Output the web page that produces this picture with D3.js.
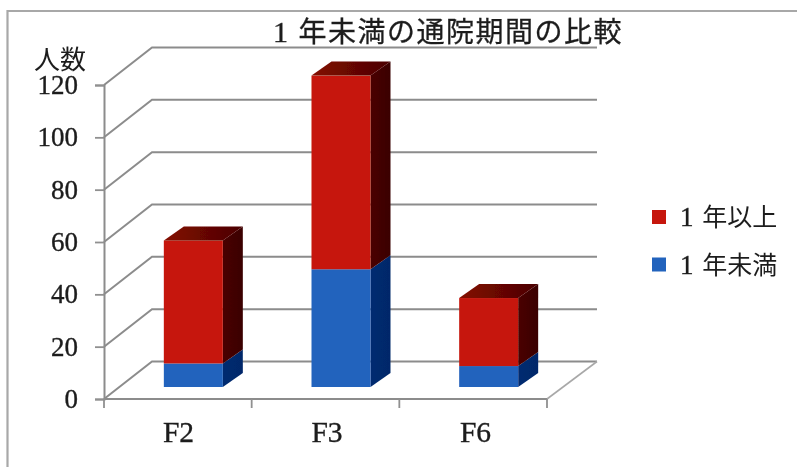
<!DOCTYPE html>
<html lang="ja">
<head>
<meta charset="utf-8">
<script src="https://cdn.jsdelivr.net/npm/d3@7"></script>
<style>
html,body{margin:0;padding:0;background:#fff}
svg{display:block}
text{fill:#1c1c1c}
</style>
</head>
<body>
<svg id="chart" width="797" height="467"></svg>
<script>
const categories = ["F2", "F3", "F6"];
const under1Year = [9, 45, 8];
const over1Year = [47, 74, 26];
const tickValues = [0, 20, 40, 60, 80, 100, 120];
const chartTitle = "1 年未満の通院期間の比較";
const yAxisTitle = "人数";
const legendLabels = ["1 年以上", "1 年未満"];

const serif = "'Liberation Serif', serif";
const cjk = "'Noto Sans CJK JP', sans-serif";
const svg = d3.select("#chart");
const defs = svg.append("defs");
const root = svg.append("g").attr("filter", "url(#soft)");

defs.append("filter").attr("id", "soft").attr("filterUnits", "userSpaceOnUse")
  .attr("x", 0).attr("y", 0).attr("width", 797).attr("height", 467)
  .append("feGaussianBlur").attr("stdDeviation", 0.6);
function grad(id, c0, c1) {
  const g = defs.append("linearGradient").attr("id", id).attr("x1", 0).attr("x2", 1).attr("y1", 0).attr("y2", 0);
  g.append("stop").attr("offset", 0).attr("stop-color", c0);
  g.append("stop").attr("offset", 1).attr("stop-color", c1);
}
grad("redTop", "#840a06", "#4a0304");
grad("redSide", "#4a0404", "#3a0304");
grad("blueSide", "#062a70", "#05286a");

const x = d3.scaleBand().domain(categories).range([104, 547]);
const xLabel = d3.scalePoint().domain(categories).range([178, 475]);
const y = d3.scaleLinear().domain([0, 120]).range([399, 85]);

const wall = { dx: 48, dy: -37.5 };
const wallRight = 597;
const depthStart = { dx: 15.5, dy: -12 };
const depth = { dx: 20, dy: -14 };
const barWidth = 59;
const gridColor = "#8c8c8c";

// frame
root.append("path").attr("fill", "none").attr("stroke", "#a8a8a8").attr("stroke-width", 2.2)
  .attr("d", "M7.5,467V11H797");

// gridlines: floor diagonal, then along back wall
const line = d3.line();
root.append("g").selectAll("path").data(tickValues).join("path")
  .attr("fill", "none").attr("stroke", gridColor).attr("stroke-width", 2)
  .attr("d", v => line([[104, y(v)], [104 + wall.dx, y(v) + wall.dy], [wallRight, y(v) + wall.dy]]));

// floor right diagonal
root.append("path").attr("fill", "none").attr("stroke", "#a8a8a8").attr("stroke-width", 1.6)
  .attr("d", line([[x.range()[1], y(0)], [wallRight, y(0) + wall.dy]]));

// left axis
const yAxis = d3.axisLeft(y).tickValues(tickValues).tickSize(9).tickPadding(17).tickFormat(d3.format("d"));
const yg = root.append("g").attr("transform", "translate(104,0)").call(yAxis);
yg.select(".domain").attr("stroke", "#8c8c8c").attr("stroke-width", 2);
yg.selectAll(".tick line").attr("stroke", "#909090").attr("stroke-width", 1.8);
yg.selectAll("text").attr("font-family", serif).attr("font-size", 27).attr("fill", "#1c1c1c")
  .attr("stroke", "#1c1c1c").attr("stroke-width", 0.35);

// bottom axis
const xAxis = d3.axisBottom(xLabel).tickSize(0).tickPadding(22);
const xg = root.append("g").attr("transform", "translate(0,399)").call(xAxis);
xg.select(".domain").remove();
xg.selectAll("text").attr("font-family", serif).attr("font-size", 29.5).attr("fill", "#1c1c1c")
  .attr("stroke", "#1c1c1c").attr("stroke-width", 0.35);
root.append("path").attr("fill", "none").attr("stroke", "#8c8c8c").attr("stroke-width", 2)
  .attr("d", line([[x.range()[0], 399], [x.range()[1], 399]]));
root.append("g").selectAll("line").data(categories.map(c => x(c)).concat(x.range()[1])).join("line")
  .attr("x1", d => d).attr("x2", d => d).attr("y1", 399).attr("y2", 408)
  .attr("stroke", "#909090").attr("stroke-width", 1.8);

// bars
const stack = categories.map((c, i) => ({
  c,
  segs: [
    { from: 0, to: under1Year[i], front: "#2363bd", side: "url(#blueSide)", top: "#0a2f78" },
    { from: under1Year[i], to: under1Year[i] + over1Year[i], front: "#c6190b", side: "url(#redSide)", top: "url(#redTop)" }
  ]
}));
const barG = root.append("g").selectAll("g").data(stack).join("g")
  .attr("transform", d => `translate(${x(d.c) + x.bandwidth() / 2 + depthStart.dx - barWidth / 2},${depthStart.dy})`);
barG.each(function (d) {
  const g = d3.select(this);
  d.segs.forEach((s, k) => {
    const y0 = y(s.from), y1 = y(s.to);
    g.append("path").attr("fill", s.side)
      .attr("d", line([[barWidth, y0], [barWidth + depth.dx, y0 + depth.dy], [barWidth + depth.dx, y1 + depth.dy], [barWidth, y1]]) + "Z");
    g.append("rect").attr("x", 0).attr("y", y1).attr("width", barWidth).attr("height", y0 - y1).attr("fill", s.front);
    if (k === d.segs.length - 1) {
      g.append("path").attr("fill", s.top)
        .attr("d", line([[0, y1], [depth.dx, y1 + depth.dy], [barWidth + depth.dx, y1 + depth.dy], [barWidth, y1]]) + "Z");
    }
  });
});

// "1 ..." labels: serif numeral, then the CJK remainder at a fixed gap
function numberedText(sel, numSize, gap) {
  sel.each(function (d) {
    const [num, rest] = d.split(" ");
    const t = d3.select(this);
    t.append("tspan").attr("font-family", serif).attr("font-size", numSize)
      .attr("stroke", "#1c1c1c").attr("stroke-width", 0.35).text(num + " ");
    t.append("tspan").attr("font-family", cjk).attr("dx", gap).text(rest);
  });
}

// title
root.append("text").datum(chartTitle).attr("x", 273).attr("y", 42)
  .attr("font-size", 28).attr("letter-spacing", 1.5)
  .attr("stroke", "#1c1c1c").attr("stroke-width", 0.3)
  .call(numberedText, 30, 0);

// y axis title
root.append("text").attr("x", 60).attr("y", 69).attr("text-anchor", "middle")
  .attr("font-family", cjk).attr("font-size", 26).text(yAxisTitle);

// legend
const legendColors = ["#c6190b", "#2363bd"];
const legendY = d3.scalePoint().domain(legendLabels).range([217, 264.5]);
const lg = root.append("g").selectAll("g").data(legendLabels).join("g")
  .attr("transform", d => `translate(0,${legendY(d)})`);
lg.append("rect").attr("x", 652).attr("y", -7).attr("width", 14).attr("height", 14)
  .attr("fill", (d, i) => legendColors[i]);
lg.append("text").attr("x", 680).attr("y", 9).attr("font-size", 25)
  .call(numberedText, 27, 2);
</script>
</body>
</html>
